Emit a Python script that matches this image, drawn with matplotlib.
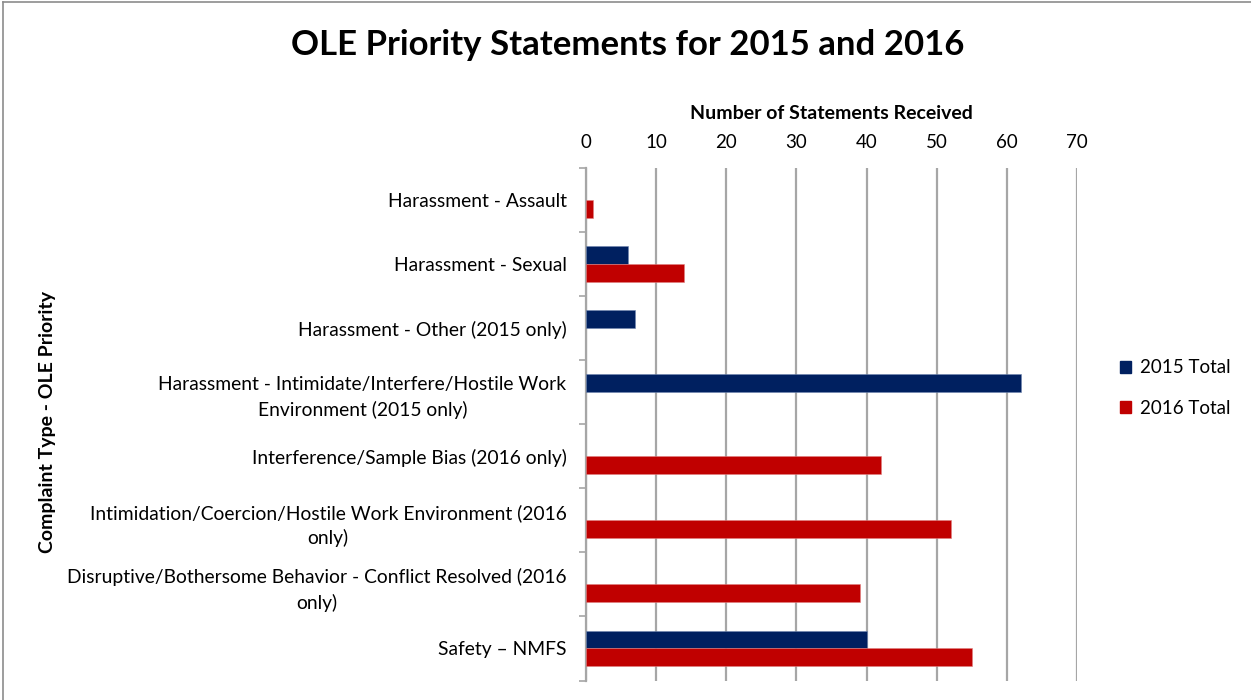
import matplotlib
matplotlib.use("Agg")
import matplotlib.pyplot as plt
from matplotlib.lines import Line2D
from matplotlib.patches import Patch
import numpy as np

categories = [
    "Harassment - Assault",
    "Harassment - Sexual",
    "Harassment - Other (2015 only)",
    "Harassment - Intimidate/Interfere/Hostile Work\nEnvironment (2015 only)",
    "Interference/Sample Bias (2016 only)",
    "Intimidation/Coercion/Hostile Work Environment (2016\nonly)",
    "Disruptive/Bothersome Behavior - Conflict Resolved (2016\nonly)",
    "Safety \u2013 NMFS",
]
total_2015 = [0, 6, 7, 62, 0, 0, 0, 40]
total_2016 = [1, 14, 0, 0, 42, 52, 39, 55]
series_names = ["2015 Total", "2016 Total"]
x_ticks = [0, 10, 20, 30, 40, 50, 60, 70]

C15 = "#002060"
C16 = "#C00000"
FONT = ["Lato", "DejaVu Sans"]
plt.rcParams["font.family"] = FONT

W, H = 1251, 700
fig = plt.figure(figsize=(W / 100, H / 100), dpi=100)
ax = fig.add_axes([586 / W, 1 - 680.5 / H, (1077 - 586) / W, (680.5 - 168) / H])

y = np.arange(len(categories))
bh = 0.28
v15 = np.array(total_2015, dtype=float)
v16 = np.array(total_2016, dtype=float)
ax.barh(y - bh / 2, np.where(v15 > 0, v15, np.nan), height=bh, color=C15,
        edgecolor="#6f86b0", linewidth=0.4, zorder=3)
ax.barh(y + bh / 2, np.where(v16 > 0, v16, np.nan), height=bh, color=C16,
        edgecolor="#e08080", linewidth=0.4, zorder=3)

ax.set_xlim(0, 70)
ax.set_ylim(len(categories) - 0.5, -0.5)
ax.set_xticks(x_ticks)
ax.xaxis.tick_top()
ax.xaxis.set_label_position("top")
ax.tick_params(axis="x", length=0, pad=12, labelsize=13.5, colors="#000000")
ax.grid(axis="x", color="#a6a6a6", linewidth=1.6, zorder=0)

ax.set_yticks(y)
ax.set_yticklabels(categories, fontsize=13.85, multialignment="center", linespacing=1.5)
ax.tick_params(axis="y", length=0, pad=14)
ax.set_yticks(np.arange(-0.5, len(categories) + 0.5, 1), minor=True)
ax.tick_params(axis="y", which="minor", length=5, width=1.2, color="#a6a6a6", direction="out")

for s in ["top", "right", "bottom"]:
    ax.spines[s].set_visible(False)
ax.spines["left"].set_color("#a6a6a6")
ax.spines["left"].set_linewidth(1.6)

ax.set_xlabel("Number of Statements Received", fontsize=14, fontweight="bold", labelpad=11)
fig.text(48 / W, 1 - 422 / H, "Complaint Type - OLE Priority", rotation=90, fontsize=14,
         fontweight="bold", ha="center", va="center")

fig.text(627.5 / W, 1 - 45 / H, "OLE Priority Statements for 2015 and 2016", fontsize=25,
         fontweight="bold", ha="center", va="center")

handles = [Patch(facecolor=C15, edgecolor=C15), Patch(facecolor=C16, edgecolor=C16)]
fig.legend(handles, series_names, loc="center left", bbox_to_anchor=(1103 / W, 1 - 388 / H),
           frameon=False, fontsize=13.5, handlelength=0.6, handleheight=0.6, handletextpad=0.5,
           labelspacing=1.25)

fig.add_artist(Line2D([3 / W, 3 / W], [0, 1 - 2 / H], transform=fig.transFigure, color="#8c8c8c", linewidth=1.2))
fig.add_artist(Line2D([3 / W, 1], [1 - 2 / H, 1 - 2 / H], transform=fig.transFigure, color="#8c8c8c", linewidth=1.2))

fig.savefig("out.png", dpi=100, facecolor="white")
